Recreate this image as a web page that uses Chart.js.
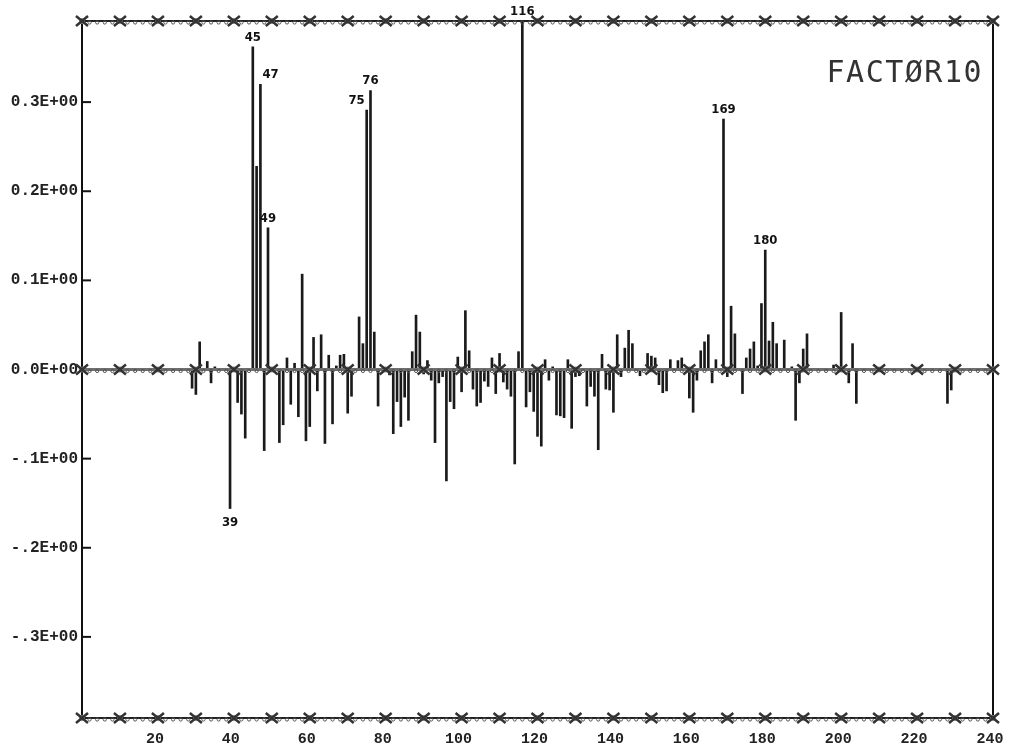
<!DOCTYPE html>
<html>
<head>
<meta charset="utf-8">
<script src="https://cdn.jsdelivr.net/npm/chart.js@4.4.1/dist/chart.umd.min.js"></script>
<style>
body { margin: 0; background: #fff; }
#wrap { width: 1009px; height: 754px; position: relative; }
</style>
</head>
<body>
<div id="wrap"><canvas id="chart"></canvas></div>
<script>
// mass numbers and factor loadings
var masses = [29, 30, 31, 33, 34, 35, 39, 41, 42, 43, 45, 46, 47, 48, 49,
  52, 53, 54, 55, 56, 57, 58, 59, 60, 61, 62, 63, 64, 65, 66, 67, 68, 69, 70, 71,
  73, 74, 75, 76, 77, 78, 81, 82, 83, 84, 85, 86, 87, 88, 89, 90, 91, 92, 93, 94,
  95, 96, 97, 98, 99, 100, 101, 102, 103, 104, 105, 106, 107, 108, 109, 110, 111,
  112, 113, 114, 115, 116, 117, 118, 119, 120, 121, 122, 123, 124, 125, 126, 127,
  128, 129, 130, 131, 133, 134, 135, 136, 137, 138, 139, 140, 141, 142, 143, 144,
  145, 147, 149, 150, 151, 152, 153, 154, 155, 157, 158, 160, 161, 162, 163, 164,
  165, 166, 167, 169, 170, 171, 172, 174, 175, 176, 177, 178, 179, 180, 181, 182,
  183, 185, 187, 188, 189, 190, 191, 198, 200, 202, 203, 204, 228, 229];
var loadings = [-0.021, -0.028, 0.031, 0.009, -0.015, 0.003, -0.156, -0.037, -0.050, -0.077, 0.362, 0.228, 0.320, -0.091, 0.159,
  -0.082, -0.062, 0.013, -0.039, 0.007, -0.053, 0.107, -0.080, -0.064, 0.036, -0.024, 0.039, -0.083, 0.016, -0.061, 0.004, 0.016, 0.017, -0.049, -0.030,
  0.059, 0.029, 0.291, 0.313, 0.042, -0.041, -0.006, -0.072, -0.036, -0.064, -0.031, -0.057, 0.020, 0.061, 0.042, -0.005, 0.010, -0.012, -0.082, -0.015,
  -0.008, -0.125, -0.036, -0.044, 0.014, -0.025, 0.066, 0.021, -0.022, -0.041, -0.037, -0.013, -0.019, 0.013, -0.027, 0.018, -0.014,
  -0.022, -0.030, -0.106, 0.020, 0.391, -0.042, -0.025, -0.047, -0.075, -0.086, 0.011, -0.012, 0.003, -0.051, -0.052, -0.054,
  0.011, -0.066, -0.008, -0.007, -0.041, -0.019, -0.030, -0.090, 0.017, -0.022, -0.023, -0.048, 0.039, -0.008, 0.024, 0.044,
  0.029, -0.007, 0.018, 0.015, 0.013, -0.017, -0.026, -0.024, 0.011, 0.010, 0.013, -0.032, -0.048, -0.012, 0.021, 0.031,
  0.039, -0.015, 0.011, 0.281, -0.008, 0.071, 0.040, -0.027, 0.013, 0.023, 0.031, 0.004, 0.074, 0.134, 0.032, 0.053,
  0.029, 0.033, 0.003, -0.057, -0.015, 0.023, 0.040, 0.005, 0.064, -0.015, 0.029, -0.038, -0.038, -0.023];
var labelledPeaks = [39, 45, 47, 49, 75, 76, 116, 169, 180];
var yTickValues = [-0.3, -0.2, -0.1, 0, 0.1, 0.2, 0.3];
var xTickValues = [20, 40, 60, 80, 100, 120, 140, 160, 180, 200, 220, 240];
var xMin = 0, xMax = 240;
var yLimit = 0.391;
var plotTitle = "FACTØR10";

function sciLabel(v) {
  if (Math.abs(v) < 1e-9) return "0.0E+00";
  var d = Math.round(Math.abs(v) * 10);
  return (v < 0 ? "-." : "0.") + d + "E+00";
}

function markerLine(ctx, x, py, color, width) {
  ctx.strokeStyle = color;
  ctx.lineWidth = width;
  ctx.beginPath();
  ctx.moveTo(x.getPixelForValue(xMin), py);
  ctx.lineTo(x.getPixelForValue(xMax), py);
  ctx.stroke();
  for (var v = xMin; v <= xMax; v += 2) {
    var px = x.getPixelForValue(v);
    if (v % 10 === 0) {
      ctx.fillStyle = '#888';
      ctx.beginPath(); ctx.arc(px, py, 3, 0, Math.PI * 2); ctx.fill();
      ctx.strokeStyle = '#333';
      ctx.lineWidth = 2.5;
      ctx.beginPath();
      ctx.moveTo(px - 6, py - 5); ctx.lineTo(px + 6, py + 5);
      ctx.moveTo(px - 6, py + 5); ctx.lineTo(px + 6, py - 5);
      ctx.stroke();
    } else {
      ctx.strokeStyle = '#555';
      ctx.lineWidth = 1;
      ctx.beginPath(); ctx.arc(px, py + 1.5, 1.6, 0, Math.PI * 2); ctx.stroke();
    }
  }
}

var plotterDecor = {
  id: 'plotterDecor',
  beforeDatasetsDraw: function (chart) {
    var ctx = chart.ctx, a = chart.chartArea, y = chart.scales.y;
    ctx.save();
    ctx.strokeStyle = '#111';
    ctx.lineWidth = 2;
    ctx.beginPath();
    ctx.moveTo(a.left, a.top); ctx.lineTo(a.left, a.bottom);
    ctx.moveTo(a.right, a.top); ctx.lineTo(a.right, a.bottom);
    ctx.stroke();
    yTickValues.forEach(function (v) {
      var py = y.getPixelForValue(v);
      ctx.beginPath(); ctx.moveTo(a.left, py); ctx.lineTo(a.left + 9, py); ctx.stroke();
    });
    ctx.restore();
  },
  afterDatasetsDraw: function (chart) {
    var ctx = chart.ctx, x = chart.scales.x, y = chart.scales.y, a = chart.chartArea;
    ctx.save();
    markerLine(ctx, x, y.getPixelForValue(0), '#6e6e6e', 3);
    markerLine(ctx, x, y.getPixelForValue(yLimit), '#222', 2);
    markerLine(ctx, x, y.getPixelForValue(-yLimit), '#222', 2);

    // peak numbers
    var meta = chart.getDatasetMeta(0);
    ctx.font = 'bold 13px "DejaVu Sans Condensed", "Liberation Sans Narrow", sans-serif';
    ctx.fillStyle = '#111';
    labelledPeaks.forEach(function (m) {
      var i = masses.indexOf(m);
      var el = meta.data[i];
      var tx = el.x;
      ctx.textAlign = 'center';
      if (m === 47) { ctx.textAlign = 'left'; tx = el.x + 2; }
      if (m === 75) { ctx.textAlign = 'right'; tx = el.x - 2; }
      if (loadings[i] >= 0) {
        ctx.textBaseline = 'bottom';
        ctx.fillText(String(m), tx, el.y - 3);
      } else {
        ctx.textBaseline = 'top';
        ctx.fillText(String(m), tx, el.y + 8);
      }
    });

    ctx.font = '30px "DejaVu Sans Mono", monospace';
    ctx.letterSpacing = '1.5px';
    ctx.fillStyle = '#333';
    ctx.textAlign = 'right';
    ctx.textBaseline = 'alphabetic';
    ctx.fillText(plotTitle, a.right - 10, a.top + 61);
    ctx.restore();
  }
};

var points = masses.map(function (m, i) { return { x: m, y: loadings[i] }; });

new Chart(document.getElementById('chart'), {
  type: 'bar',
  data: {
    datasets: [{
      data: points,
      backgroundColor: '#1a1a1a',
      borderWidth: 0,
      barThickness: 2
    }]
  },
  options: {
    responsive: true,
    maintainAspectRatio: false,
    animation: false,
    layout: { padding: { top: 21, right: 16, left: 0, bottom: 0 } },
    plugins: { legend: { display: false }, tooltip: { enabled: false } },
    scales: {
      x: {
        type: 'linear',
        min: xMin,
        max: xMax,
        offset: false,
        grid: { display: false, drawTicks: false },
        border: { display: false },
        afterBuildTicks: function (scale) { scale.ticks = xTickValues.map(function (v) { return { value: v }; }); },
        afterFit: function (scale) { scale.height = 36; scale.paddingLeft = 0; scale.paddingRight = 0; },
        ticks: {
          padding: 12,
          labelOffset: -3,
          maxRotation: 0,
          autoSkip: false,
          color: '#222',
          font: { family: '"Liberation Mono", monospace', size: 15, weight: 'bold' }
        }
      },
      y: {
        min: -yLimit,
        max: yLimit,
        grid: { display: false, drawTicks: false },
        border: { display: false },
        afterBuildTicks: function (scale) { scale.ticks = yTickValues.map(function (v) { return { value: v }; }); },
        afterFit: function (scale) { scale.width = 82; scale.paddingTop = 0; scale.paddingBottom = 0; },
        ticks: {
          padding: 4,
          color: '#222',
          callback: function (v) { return sciLabel(v); },
          font: { family: '"Liberation Mono", monospace', size: 16, weight: 'bold' }
        }
      }
    }
  },
  plugins: [plotterDecor]
});
</script>
</body>
</html>
